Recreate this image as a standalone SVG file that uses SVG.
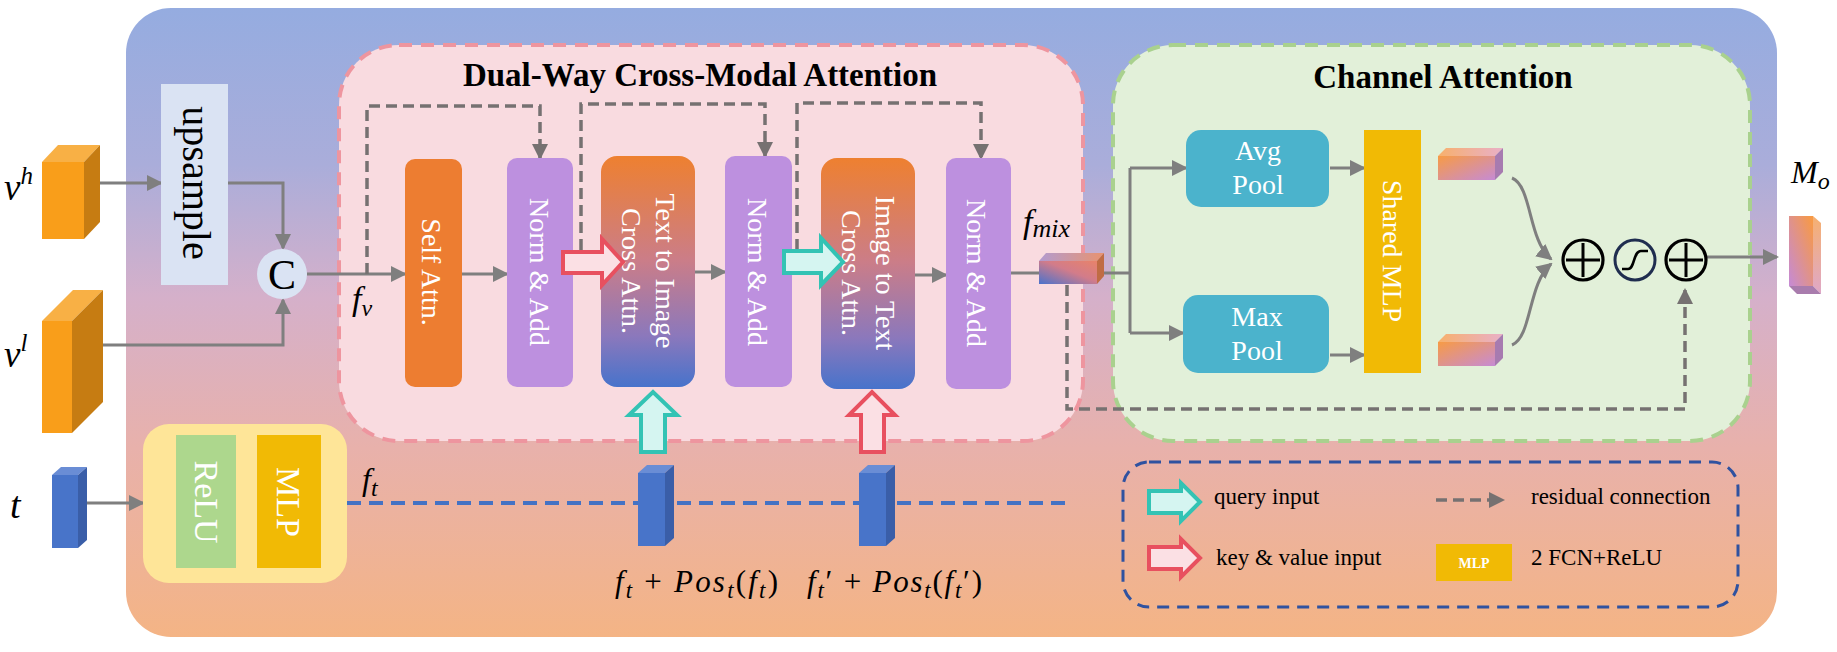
<svg xmlns="http://www.w3.org/2000/svg" width="1837" height="652" viewBox="0 0 1837 652">
<defs>
<style>
.ln{fill:none;stroke:#7F7F7F;stroke-width:3}
.dl{fill:none;stroke:#767171;stroke-width:3.5;stroke-dasharray:11 6}
.wt{fill:#FFFFFF;font-family:"Liberation Serif","Times New Roman",serif;font-size:28px;text-anchor:middle}
.ttl{fill:#000;font-family:"Liberation Serif","Times New Roman",serif;font-size:33px;font-weight:bold;text-anchor:middle}
.mt{fill:#000;font-family:"Liberation Serif","Times New Roman",serif;font-style:italic}
.lg{fill:#000;font-family:"Liberation Serif","Times New Roman",serif;font-size:23px}
.na{fill:#BD90DF}
.tq{fill:#D5F5F1;stroke:#33C3B4;stroke-width:4;stroke-linejoin:miter}
.rk{fill:#FBE0E4;stroke:#E8505F;stroke-width:4;stroke-linejoin:miter}
</style>
<linearGradient id="bg" x1="0" y1="0" x2="0" y2="1">
<stop offset="0" stop-color="#95ACE0"/>
<stop offset="0.25" stop-color="#AAADDA"/>
<stop offset="0.46" stop-color="#D5B0CA"/>
<stop offset="0.7" stop-color="#E8B1AB"/>
<stop offset="1" stop-color="#F4B485"/>
</linearGradient>
<linearGradient id="ca" x1="0" y1="0" x2="0" y2="1">
<stop offset="0" stop-color="#EE8030"/>
<stop offset="0.45" stop-color="#CB7D88"/>
<stop offset="0.78" stop-color="#8B78BC"/>
<stop offset="1" stop-color="#4773CB"/>
</linearGradient>
<linearGradient id="cf" x1="0" y1="0" x2="1" y2="1">
<stop offset="0" stop-color="#F79B45"/>
<stop offset="1" stop-color="#C68BD4"/>
</linearGradient>
<linearGradient id="ct" x1="0" y1="0" x2="1" y2="0">
<stop offset="0" stop-color="#F7B06C"/>
<stop offset="1" stop-color="#E9B0C8"/>
</linearGradient>
<linearGradient id="mf" x1="0" y1="1" x2="1" y2="0">
<stop offset="0" stop-color="#4A72CC"/>
<stop offset="0.55" stop-color="#D27C8A"/>
<stop offset="1" stop-color="#E8836A"/>
</linearGradient>
<linearGradient id="mt" x1="0" y1="0" x2="1" y2="0">
<stop offset="0" stop-color="#B29BD0"/>
<stop offset="1" stop-color="#E9936F"/>
</linearGradient>
<linearGradient id="of" x1="1" y1="0" x2="0" y2="1">
<stop offset="0" stop-color="#F99A40"/>
<stop offset="1" stop-color="#C58AD6"/>
</linearGradient>
<linearGradient id="os" x1="0" y1="0" x2="0" y2="1">
<stop offset="0" stop-color="#F6B070"/>
<stop offset="1" stop-color="#DFA8C8"/>
</linearGradient>
<marker id="ah" viewBox="0 0 16 16" markerWidth="16" markerHeight="16" refX="14" refY="8" orient="auto" markerUnits="userSpaceOnUse"><path d="M0,0 L16,8 L0,16 z" fill="#7F7F7F"/></marker>
<marker id="ad" viewBox="0 0 16 16" markerWidth="16" markerHeight="16" refX="14" refY="8" orient="auto" markerUnits="userSpaceOnUse"><path d="M0,0 L16,8 L0,16 z" fill="#767171"/></marker>
</defs>

<g id="background">
<rect x="126" y="8" width="1651" height="629" rx="45" fill="url(#bg)"/>
</g>

<g id="dual-way-box">
<rect x="339" y="45" width="744" height="396" rx="60" fill="#F9DBE0" stroke="#EE959F" stroke-width="4" stroke-dasharray="13 9"/>
<text class="ttl" x="700" y="86">Dual-Way Cross-Modal Attention</text>
</g>

<g id="channel-attention-box">
<rect x="1113" y="45" width="637" height="396" rx="60" fill="#E2F0D9" stroke="#A9D18E" stroke-width="4" stroke-dasharray="13 9"/>
<text class="ttl" x="1443" y="88">Channel Attention</text>
</g>

<g id="connectors">
<path class="ln" d="M100,183 H161" marker-end="url(#ah)"/>
<path class="ln" d="M228,183 H283 V248" marker-end="url(#ah)"/>
<path class="ln" d="M103,345 H283 V300" marker-end="url(#ah)"/>
<path class="ln" d="M307,274 H405" marker-end="url(#ah)"/>
<path class="ln" d="M87,503 H143" marker-end="url(#ah)"/>
<path class="ln" d="M462,274 H507" marker-end="url(#ah)"/>
<path class="ln" d="M695,272 H725" marker-end="url(#ah)"/>
<path class="ln" d="M915,275 H946" marker-end="url(#ah)"/>
<path class="ln" d="M1011,273 H1039"/>
<path class="ln" d="M1104,273 H1130"/>
<path class="ln" d="M1130,168 V333"/>
<path class="ln" d="M1130,168 H1186" marker-end="url(#ah)"/>
<path class="ln" d="M1130,333 H1183" marker-end="url(#ah)"/>
<path class="ln" d="M1330,168 H1364" marker-end="url(#ah)"/>
<path class="ln" d="M1330,355 H1364" marker-end="url(#ah)"/>
<path class="ln" d="M1512,178 C1532,186 1528,240 1551,259" marker-end="url(#ah)"/>
<path class="ln" d="M1512,345 C1532,337 1528,283 1551,264" marker-end="url(#ah)"/>
<path class="ln" d="M1706,257 H1777" marker-end="url(#ah)"/>
<path class="dl" d="M367,274 V106 H540 V158" marker-end="url(#ad)"/>
<path class="dl" d="M581,250 V104 H765 V156" marker-end="url(#ad)"/>
<path class="dl" d="M797,250 V103 H981 V158" marker-end="url(#ad)"/>
<path class="dl" d="M1067,285 V409 H1685 V290" marker-end="url(#ad)"/>
<path d="M347,503 H1072" fill="none" stroke="#4472C4" stroke-width="4" stroke-dasharray="14 8"/>
</g>

<g id="input-vh">
<rect x="42" y="162" width="42" height="77" fill="#F99E1A"/>
<polygon points="42,162 58,145 100,145 84,162" fill="#F8B045"/>
<polygon points="84,162 100,145 100,222 84,239" fill="#C67C12"/>
<text class="mt" x="4" y="200" font-size="37">v<tspan font-size="25" dy="-16">h</tspan></text>
</g>

<g id="input-vl">
<rect x="42" y="321" width="30" height="112" fill="#F99E1A"/>
<polygon points="42,321 73,290 103,290 72,321" fill="#F8B045"/>
<polygon points="72,321 103,290 103,402 72,433" fill="#C67C12"/>
<text class="mt" x="4" y="367" font-size="37">v<tspan font-size="25" dy="-16">l</tspan></text>
</g>

<g id="input-t">
<rect x="52" y="475" width="26" height="73" fill="#4874C9"/>
<polygon points="52,475 61,467 87,467 78,475" fill="#6A8DD5"/>
<polygon points="78,475 87,467 87,540 78,548" fill="#3A5EA8"/>
<text class="mt" x="10" y="518" font-size="38">t</text>
</g>

<g id="upsample">
<rect x="161" y="84" width="67" height="201" fill="#DAE3F3"/>
<text transform="translate(183,183) rotate(90)" x="0" y="0" fill="#000" font-family="Liberation Serif, Times New Roman, serif" font-size="40" text-anchor="middle">upsample</text>
</g>

<g id="concat">
<circle cx="282" cy="274" r="25" fill="#DAE3F3"/>
<text x="282" y="289" fill="#000" font-family="Liberation Serif, Times New Roman, serif" font-size="42" text-anchor="middle">C</text>
<text class="mt" x="352" y="310" font-size="34">f<tspan font-size="24" dy="6">v</tspan></text>
</g>

<g id="self-attn">
<rect x="405" y="159" width="57" height="228" rx="10" fill="#ED7D31"/>
<text class="wt" transform="translate(422,272) rotate(90)">Self Attn.</text>
</g>

<g id="norm-add-1">
<rect class="na" x="507" y="158" width="66" height="229" rx="10"/>
<text class="wt" transform="translate(530,272) rotate(90)">Norm &amp; Add</text>
</g>

<g id="text-to-image">
<rect x="601" y="156" width="94" height="231" rx="16" fill="url(#ca)"/>
<text class="wt" transform="translate(656,271) rotate(90)">Text to Image</text>
<text class="wt" transform="translate(622,271) rotate(90)">Cross Attn.</text>
</g>

<g id="norm-add-2">
<rect class="na" x="725" y="156" width="67" height="231" rx="10"/>
<text class="wt" transform="translate(748,272) rotate(90)">Norm &amp; Add</text>
</g>

<g id="image-to-text">
<rect x="821" y="158" width="94" height="231" rx="16" fill="url(#ca)"/>
<text class="wt" transform="translate(876,273) rotate(90)">Image to Text</text>
<text class="wt" transform="translate(842,273) rotate(90)">Cross Attn.</text>
</g>

<g id="norm-add-3">
<rect class="na" x="946" y="158" width="65" height="231" rx="10"/>
<text class="wt" transform="translate(967,273) rotate(90)">Norm &amp; Add</text>
</g>

<g id="kv-arrow-1">
<polygon class="rk" points="563,252 602,252 602,239 623,262 602,285 602,273 563,273"/>
</g>
<g id="q-arrow-1">
<polygon class="tq" points="784,251 821,251 821,238 843,262 821,285 821,273 784,273"/>
</g>
<g id="q-arrow-up">
<polygon class="tq" points="641,452 641,415 629,415 653,392 677,415 665,415 665,452"/>
</g>
<g id="kv-arrow-up">
<polygon class="rk" points="861,452 861,415 849,415 872,392 895,415 884,415 884,452"/>
</g>

<g id="fmix">
<rect x="1039" y="261" width="58" height="23" fill="url(#mf)"/>
<polygon points="1039,261 1046,253 1104,253 1097,261" fill="url(#mt)"/>
<polygon points="1097,261 1104,253 1104,276 1097,284" fill="#C06C44"/>
<text class="mt" x="1023" y="233" font-size="34">f<tspan font-size="26" dy="4">mix</tspan></text>
</g>

<g id="avg-pool">
<rect x="1186" y="130" width="143" height="77" rx="15" fill="#4BB3CC"/>
<text class="wt" x="1258" y="160">Avg</text>
<text class="wt" x="1258" y="194">Pool</text>
</g>

<g id="max-pool">
<rect x="1183" y="295" width="146" height="78" rx="15" fill="#4BB3CC"/>
<text class="wt" x="1257" y="326">Max</text>
<text class="wt" x="1257" y="360">Pool</text>
</g>

<g id="shared-mlp">
<rect x="1364" y="130" width="57" height="243" fill="#F1BA05"/>
<text class="wt" transform="translate(1383,251) rotate(90)">Shared MLP</text>
</g>

<g id="avg-feature">
<rect x="1438" y="156" width="57" height="24" fill="url(#cf)"/>
<polygon points="1438,156 1446,148 1503,148 1495,156" fill="url(#ct)"/>
<polygon points="1495,156 1503,148 1503,172 1495,180" fill="#A77BB0"/>
</g>

<g id="max-feature">
<rect x="1438" y="342" width="57" height="24" fill="url(#cf)"/>
<polygon points="1438,342 1446,334 1503,334 1495,342" fill="url(#ct)"/>
<polygon points="1495,342 1503,334 1503,358 1495,366" fill="#A77BB0"/>
</g>

<g id="add-1">
<circle cx="1583" cy="260" r="20" fill="none" stroke="#000" stroke-width="3.2"/>
<path d="M1583,243 V277 M1566,260 H1600" stroke="#000" stroke-width="3" fill="none"/>
</g>
<g id="sigmoid">
<circle cx="1635" cy="260" r="20" fill="none" stroke="#1F2D4F" stroke-width="3"/>
<path d="M1622,269 H1628 C1635,269 1633,251 1641,251 H1648" stroke="#000" stroke-width="2.6" fill="none"/>
</g>
<g id="add-2">
<circle cx="1686" cy="260" r="20" fill="none" stroke="#000" stroke-width="3.2"/>
<path d="M1686,243 V277 M1669,260 H1703" stroke="#000" stroke-width="3" fill="none"/>
</g>

<g id="output-mo">
<rect x="1789" y="216" width="24" height="70" fill="url(#of)"/>
<polygon points="1813,216 1821,223 1821,294 1813,286" fill="url(#os)"/>
<polygon points="1789,286 1813,286 1821,294 1797,294" fill="#A97CAD"/>
<text class="mt" x="1791" y="183" font-size="32">M<tspan font-size="24" dy="6">o</tspan></text>
</g>

<g id="relu-mlp">
<rect x="143" y="424" width="204" height="159" rx="26" fill="#FEE598"/>
<rect x="176" y="435" width="60" height="133" fill="#ADD78D"/>
<rect x="257" y="435" width="64" height="133" fill="#F1BA05"/>
<text class="wt" style="font-size:34px" transform="translate(195,502) rotate(90)">ReLU</text>
<text class="wt" style="font-size:34px" transform="translate(277,502) rotate(90)">MLP</text>
<text class="mt" x="362" y="490" font-size="32">f<tspan font-size="24" dy="6">t</tspan></text>
</g>

<g id="text-feature-1">
<rect x="638" y="473" width="27" height="73" fill="#4874C9"/>
<polygon points="638,473 647,465 674,465 665,473" fill="#6A8DD5"/>
<polygon points="665,473 674,465 674,538 665,546" fill="#3A5EA8"/>
<text class="mt" x="615" y="592" font-size="31" textLength="163" lengthAdjust="spacing">f<tspan font-size="23" dy="6">t</tspan><tspan dy="-6" font-style="normal"> + </tspan><tspan>Pos</tspan><tspan font-size="23" dy="6">t</tspan><tspan dy="-6" font-style="normal">(</tspan><tspan>f</tspan><tspan font-size="23" dy="6">t</tspan><tspan dy="-6" font-style="normal">)</tspan></text>
</g>

<g id="text-feature-2">
<rect x="859" y="473" width="27" height="73" fill="#4874C9"/>
<polygon points="859,473 868,465 895,465 886,473" fill="#6A8DD5"/>
<polygon points="886,473 895,465 895,538 886,546" fill="#3A5EA8"/>
<text class="mt" x="807" y="592" font-size="31" textLength="175" lengthAdjust="spacing">f<tspan font-size="23" dy="6">t</tspan><tspan dy="-6" font-style="normal">′ + </tspan><tspan>Pos</tspan><tspan font-size="23" dy="6">t</tspan><tspan dy="-6" font-style="normal">(</tspan><tspan>f</tspan><tspan font-size="23" dy="6">t</tspan><tspan dy="-6" font-style="normal">′)</tspan></text>
</g>

<g id="legend">
<rect x="1123" y="462" width="615" height="145" rx="26" fill="none" stroke="#2F52A0" stroke-width="3" stroke-dasharray="12 8"/>
<polygon class="tq" points="1149,491 1181,491 1181,483 1200,502 1181,521 1181,513 1149,513"/>
<text class="lg" x="1214" y="504">query input</text>
<polygon class="rk" points="1149,547 1181,547 1181,539 1200,558 1181,577 1181,569 1149,569"/>
<text class="lg" x="1216" y="565">key &amp; value input</text>
<path class="dl" d="M1436,500 H1503" marker-end="url(#ad)"/>
<text class="lg" x="1531" y="504">residual connection</text>
<rect x="1436" y="544" width="76" height="37" fill="#F1BA05"/>
<text x="1474" y="568" fill="#FFF" font-family="Liberation Serif, Times New Roman, serif" font-size="14" font-weight="bold" text-anchor="middle">MLP</text>
<text class="lg" x="1531" y="565">2 FCN+ReLU</text>
</g>
</svg>
